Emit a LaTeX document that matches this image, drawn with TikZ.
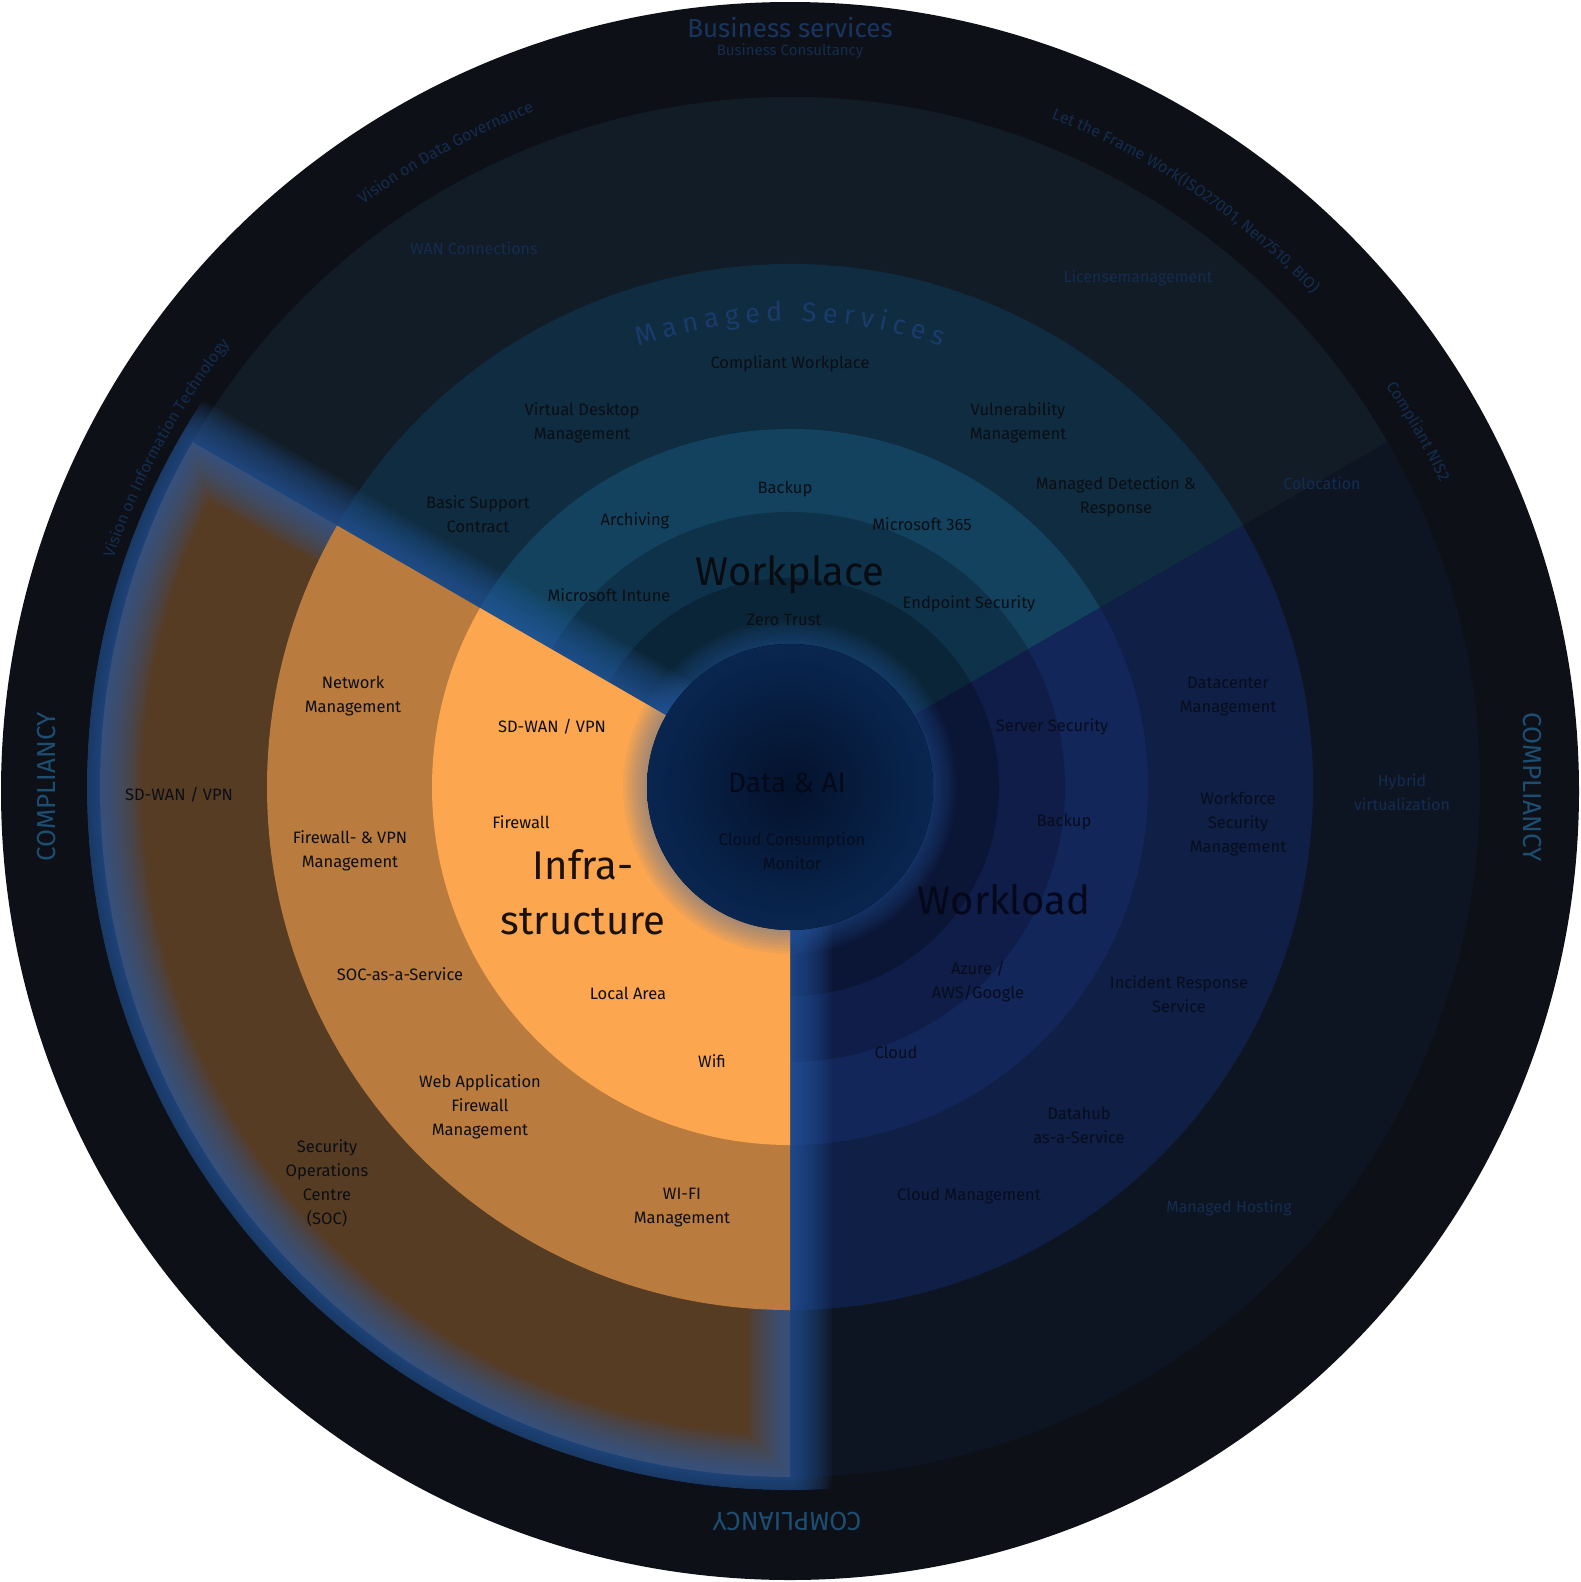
\documentclass[tikz,border=0pt]{standalone}
\usepackage{fontspec}
\setmainfont{Fira Sans}
\usetikzlibrary{decorations.text}
\definecolor{ringout}{HTML}{0D1117}
\definecolor{wpA}{HTML}{121C27}
\definecolor{wpB}{HTML}{0F2C40}
\definecolor{wpC}{HTML}{12425D}
\definecolor{wpD}{HTML}{0E3249}
\definecolor{wpE}{HTML}{0B2538}
\definecolor{wlA}{HTML}{0E1522}
\definecolor{wlB}{HTML}{101F45}
\definecolor{wlC}{HTML}{132659}
\definecolor{wlD}{HTML}{0F1D48}
\definecolor{wlE}{HTML}{0B1535}
\definecolor{inA}{HTML}{573C24}
\definecolor{inB}{HTML}{B97B3E}
\definecolor{inC}{HTML}{FCA64F}
\definecolor{glowblue}{HTML}{2C63B0}
\definecolor{labelcol}{HTML}{0B0E14}
\definecolor{faint}{HTML}{142C50}
\definecolor{faintB}{HTML}{1A3C6C}
\definecolor{compl}{HTML}{1E4D72}
\newcommand\pieslice[4]{\fill[#4] (C) -- ([shift={(C)}]#1:#3) arc[start angle=#1,end angle=#2,radius=#3] -- cycle;}
\begin{document}
\begin{tikzpicture}[x=1pt,y=-1pt,
  lbl/.style={font=\fontsize{16.5}{24}\selectfont, align=center, text=labelcol, inner sep=0pt},
  wlbl/.style={lbl, text={rgb,255:red,8;green,12;blue,28}},
  big/.style={font=\fontsize{40}{55}\selectfont, align=center, inner sep=0pt},
  fainttxt/.style={font=\fontsize{16}{24}\selectfont, align=center, text=faint, inner sep=0pt},
  compliancy/.style={font=\fontsize{26}{30}\selectfont, text=compl, inner sep=0pt}]
\useasboundingbox (0,0) rectangle (1580,1582);
\fill[white] (0,0) rectangle (1580,1582);
\coordinate (C) at (790,787);
\fill[ringout] (790,791) circle[radius=789];
% Workplace sector
\pieslice{-150}{-30}{690}{wpA}
\pieslice{-150}{-30}{523}{wpB}
\pieslice{-150}{-30}{358}{wpC}
\pieslice{-150}{-30}{275}{wpD}
\pieslice{-150}{-30}{209}{wpE}
% Workload sector
\pieslice{-30}{90}{690}{wlA}
\pieslice{-30}{90}{523}{wlB}
\pieslice{-30}{90}{358}{wlC}
\pieslice{-30}{90}{275}{wlD}
\pieslice{-30}{90}{209}{wlE}
% Infrastructure sector
\pieslice{90}{210}{690}{inA}
\begin{scope}
\clip (C) circle[radius=703];
\foreach \w in {84,78,...,6}{
  \draw[glowblue, line width=\w, opacity=0.07, line join=round]
    (C) -- ([shift={(C)}]90:690) arc[start angle=90,end angle=210,radius=690] -- cycle;
}
\end{scope}
\pieslice{90}{210}{523}{inB}
\pieslice{90}{210}{358}{inC}
% Data & AI circle
\foreach \w in {48,42,...,6}{
  \draw[glowblue, line width=\w, opacity=0.06] (C) circle[radius=143];
}
\fill[inner color={rgb,255:red,4;green,18;blue,44}, outer color={rgb,255:red,9;green,38;blue,80}] (C) circle[radius=143];

% curved texts
\path[decorate, decoration={text along path, text align=center,
  text={|\fontsize{16}{16}\selectfont\color{faint}|Vision on Data Governance}}]
  ([shift={(C)}]-127:722) arc[start angle=-127,end angle=-110,radius=722];
\path[decorate, decoration={text along path, text align=center,
  text={|\fontsize{16}{16}\selectfont\color{faint}|Let the Frame Work(ISO27001, Nen7510, BIO)}}]
  ([shift={(C)}]-71:718) arc[start angle=-71,end angle=-41,radius=718];
\path[decorate, decoration={text along path, text align=center,
  text={|\fontsize{16}{16}\selectfont\color{faint}|Compliant NIS2}}]
  ([shift={(C)}]-36:718) arc[start angle=-36,end angle=-23,radius=718];
\path[decorate, decoration={text along path, text align=center,
  text={|\fontsize{16}{16}\selectfont\color{faint}|Vision on Information Technology}}]
  ([shift={(C)}]-163:714) arc[start angle=-163,end angle=-140,radius=714];
\path[decorate, decoration={text along path, text align={fit to path},
  text={|\fontsize{27}{27}\selectfont\color{faintB}|Managed Services}}]
  ([shift={(C)}]-109:466) arc[start angle=-109,end angle=-71,radius=466];

% outer texts
\node[font=\fontsize{26}{30}\selectfont, text={rgb,255:red,25;green,52;blue,94}, inner sep=0pt] (bs) at (790,28) {Business services};
\node[font=\fontsize{15}{18}\selectfont, text=faint, inner sep=0pt] (bc) at (790,51) {Business Consultancy};
\node[compliancy, rotate=90] (cl) at (47,787) {COMPLIANCY};
\node[compliancy, rotate=-90] (cr) at (1532,787) {COMPLIANCY};
\node[compliancy, rotate=180] (cb) at (787,1521) {COMPLIANCY};

% faint ring labels
\node[fainttxt] (f1) at (474,248) {WAN Connections};
\node[fainttxt] (f2) at (1138,278) {Licensemanagement};
\node[fainttxt] (f3) at (1322,483) {Colocation};
\node[fainttxt] (f4) at (1402,792) {Hybrid\\virtualization};
\node[fainttxt] (f5) at (1229,1208) {Managed Hosting};

% Workplace labels
\node[lbl] (w1) at (790,364) {Compliant Workplace};
\node[lbl] (w2) at (582,423) {Virtual Desktop\\Management};
\node[lbl] (w3) at (1018,423) {Vulnerability\\Management};
\node[lbl] (w4) at (478,514) {Basic Support\\Contract};
\node[lbl] (w5) at (1116,497) {Managed Detection \&\\Response};
\node[lbl] (w6) at (785,489) {Backup};
\node[lbl] (w7) at (635,521) {Archiving};
\node[lbl] (w8) at (922,524) {Microsoft 365};
\node[big, text={rgb,255:red,8;green,11;blue,16}] (wp) at (790,575) {Workplace};
\node[lbl] (w9) at (609,595) {Microsoft Intune};
\node[lbl] (w10) at (969,604) {Endpoint Security};
\node[lbl] (w11) at (784,620) {Zero Trust};

% Infrastructure labels
\node[lbl] (i1) at (353,696) {Network\\Management};
\node[lbl] (i2) at (552,727) {SD-WAN / VPN};
\node[lbl] (i3) at (179,795) {SD-WAN / VPN};
\node[lbl] (i4) at (521,822) {Firewall};
\node[lbl] (i5) at (350,851) {Firewall- \& VPN\\Management};
\node[big, text={rgb,255:red,26;green,17;blue,8}] (inf) at (583,892) {Infra-\\structure};
\node[lbl] (i6) at (400,974) {SOC-as-a-Service};
\node[lbl] (i7) at (628,993) {Local Area};
\node[lbl] (i8) at (712,1061) {Wifi};
\node[lbl] (i9) at (480,1107) {Web Application\\Firewall\\Management};
\node[lbl] (i10) at (327,1183) {Security\\Operations\\Centre\\(SOC)};
\node[lbl] (i11) at (682,1208) {WI-FI\\Management};

% Data & AI
\node[font=\fontsize{28}{32}\selectfont, text={rgb,255:red,4;green,9;blue,26}, inner sep=0pt] (dai) at (787,783) {Data \& AI};
\node[lbl, text={rgb,255:red,6;green,12;blue,30}] (d1) at (792,851) {Cloud Consumption\\Monitor};

% Workload labels
\node[wlbl] (l1) at (1052,727) {Server Security};
\node[wlbl] (l2) at (1064,822) {Backup};
\node[big, text={rgb,255:red,5;green,8;blue,26}] (wl) at (1004,900) {Workload};
\node[wlbl] (l3) at (978,982) {Azure /\\AWS/Google};
\node[wlbl] (l4) at (896,1052) {Cloud};
\node[wlbl] (l5) at (1228,697) {Datacenter\\Management};
\node[wlbl] (l6) at (1238,824) {Workforce\\Security\\Management};
\node[wlbl] (l7) at (1179,994) {Incident Response\\Service};
\node[wlbl] (l8) at (1079,1125) {Datahub\\as-a-Service};
\node[wlbl] (l9) at (969,1196) {Cloud Management};
\end{tikzpicture}
\end{document}
